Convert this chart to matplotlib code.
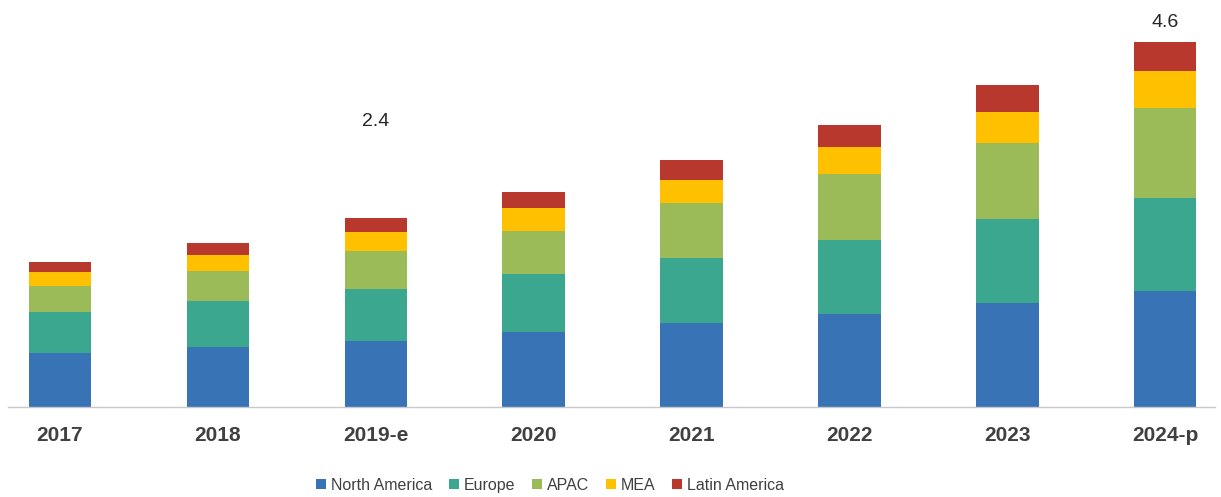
import numpy as np
import matplotlib.pyplot as plt

years = ['2017', '2018', '2019-e', '2020', '2021', '2022', '2023', '2024-p']
regions = ['North America', 'Europe', 'APAC', 'MEA', 'Latin America']

north_america = [0.68, 0.76, 0.83, 0.95, 1.06, 1.17, 1.31, 1.46]
europe = [0.52, 0.57, 0.66, 0.72, 0.82, 0.93, 1.06, 1.17]
apac = [0.32, 0.38, 0.48, 0.55, 0.69, 0.83, 0.95, 1.13]
mea = [0.18, 0.21, 0.23, 0.29, 0.29, 0.34, 0.40, 0.47]
latin_america = [0.13, 0.15, 0.18, 0.20, 0.25, 0.28, 0.34, 0.37]

colors = ['#3873b6', '#3aa78e', '#9bbb59', '#ffc000', '#b8382d']

# value labels shown on the chart (bar index, text, y position)
label_idx = [2, 7]
label_text = ['2.4', '4.6']
label_y = [3.6, 4.84]

plt.rcParams['font.family'] = ['Liberation Sans', 'DejaVu Sans']

fig = plt.figure(figsize=(12.21, 4.97), dpi=100)
ax = fig.add_axes([8 / 1221, 0.1811, 1207 / 1221, 0.799])

x = np.arange(len(years))
series = [north_america, europe, apac, mea, latin_america]
bottom = np.zeros(len(years))
for name, vals, c in zip(regions, series, colors):
    ax.bar(x, vals, width=0.395, bottom=bottom, color=c, label=name)
    bottom += np.array(vals)

for i, t, yv in zip(label_idx, label_text, label_y):
    ax.text(x[i], yv, t, ha='center', va='center', fontsize=14, color='#262626')

ax.set_xlim(-0.329, 7.315)
ax.set_ylim(0, 5.0)
for s in ['top', 'right', 'left']:
    ax.spines[s].set_visible(False)
ax.spines['bottom'].set_color('#c8c8c8')
ax.spines['bottom'].set_linewidth(1.0)
ax.set_yticks([])
ax.set_xticks(x)
ax.set_xticklabels(years, fontsize=15, color='#404040', fontweight='bold')
ax.tick_params(axis='x', length=0, pad=14)

handles, labels = ax.get_legend_handles_labels()
fig.legend(handles, labels, loc='center', bbox_to_anchor=(0.4505, 0.024), ncol=5,
           frameon=False, handlelength=0.62, handleheight=0.62, handletextpad=0.3,
           columnspacing=1.05, labelcolor='#404040', fontsize=11.5)

fig.savefig('out.png', dpi=100)
